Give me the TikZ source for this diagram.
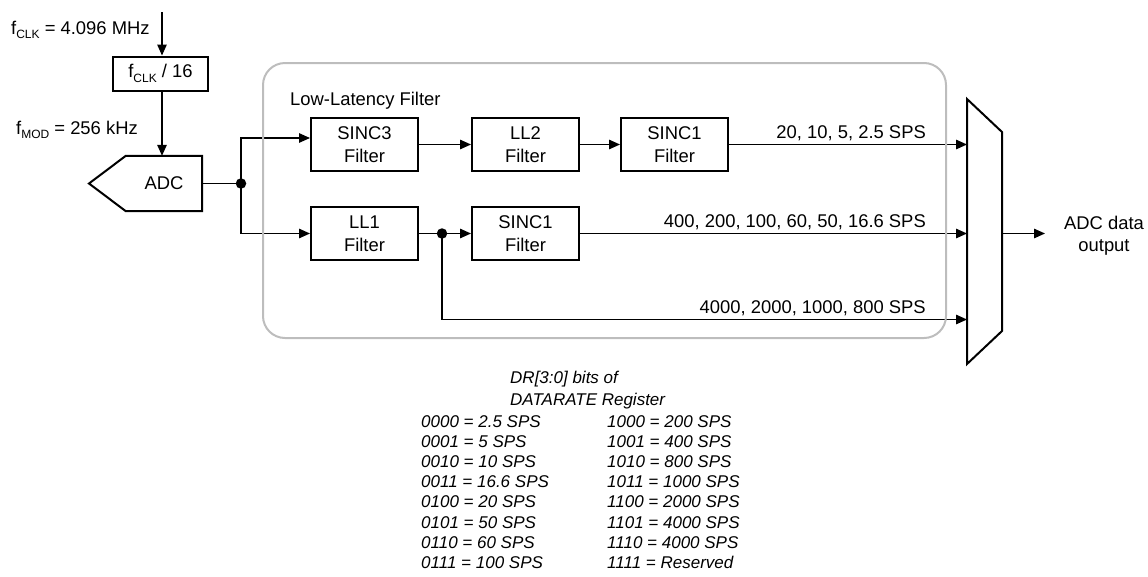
\documentclass[tikz,border=0pt]{standalone}
\usepackage{fontspec}
\setmainfont{Liberation Sans}
\usetikzlibrary{arrows.meta,calc}
\definecolor{boxgray}{HTML}{BDBDBD}
\newcommand\lsub[1]{\raisebox{-0.25em}{\fontsize{12}{12}\selectfont #1}}
\begin{document}
\begin{tikzpicture}[x=1pt,y=-1pt,
  every node/.style={font=\fontsize{18.4}{23}\selectfont, inner sep=0pt},
  fbox/.style={draw, line width=2pt, minimum width=107pt, minimum height=53pt, align=center},
  conn/.style={line width=1.3pt},
  arr/.style={conn, -{Triangle[length=11pt,width=9.5pt]}},
  junction/.style={circle, fill, minimum size=10.5pt, inner sep=0pt},
  lbl/.style={anchor=base east},
  tbl/.style={font=\fontsize{17}{20}\selectfont\itshape, anchor=base west}]
\useasboundingbox (0,0) rectangle (1148,576);

% clock
\coordinate (clkin) at (162,12);
\node[anchor=base west] (fclk) at (11,34) {f\lsub{CLK} = 4.096 MHz};
\node[fbox, minimum width=95pt, minimum height=34pt] (div) at (160.5,73.5) {f\lsub{CLK} / 16};
\node[anchor=base west] (fmod) at (16,134) {f\lsub{MOD} = 256 kHz};

% ADC
\node[minimum width=76pt, minimum height=55pt] (adc) at (164,183.5) {ADC};
\draw[line width=2pt] (adc.north west) -- (adc.north east) -- (adc.south east) -- (adc.south west) -- (89,183.5) -- cycle;

\node[junction] (j1) at (241,183.5) {};

% filters
\node[fbox] (sinc3) at (364.5,144.5) {SINC3\\Filter};
\node[fbox] (ll2) at (525.5,144.5) {LL2\\Filter};
\node[fbox] (sinc1a) at (674.5,144.5) {SINC1\\Filter};
\node[fbox] (ll1) at (364.5,233.5) {LL1\\Filter};
\node[junction] (j2) at (442,233.5) {};
\node[fbox] (sinc1b) at (525.5,233.5) {SINC1\\Filter};

% mux
\coordinate (mTL) at (967,99);
\coordinate (mTR) at (1002,132);
\coordinate (mBR) at (1002,331);
\coordinate (mBL) at (967,364);
\draw[line width=2pt] (mTL) -- (mTR) -- (mBR) -- (mBL) -- cycle;
\coordinate (m3) at (967,319.5);
\coordinate (mout) at (1002,233.5);
\coordinate (otip) at (1045,233.5);
\node[align=center, font=\fontsize{18.4}{22}\selectfont] (out) at (1104,236) {ADC data\\output};

% connectors
\draw[arr] (clkin) -- (clkin |- div.north);
\draw[arr] (clkin |- div.south) -- (clkin |- adc.north);
\draw[conn] (adc.east) -- (j1.center);
\draw[arr] (j1.center) |- ([yshift=6.5pt]sinc3.west);
\draw[arr] (j1.center) |- (ll1.west);
\draw[arr] (sinc3) -- (ll2);
\draw[arr] (ll2) -- (sinc1a);
\draw[arr] (sinc1a.east) -- (sinc1a.east -| mTL);
\draw[conn] (ll1.east) -- (j2.center);
\draw[arr] (j2.center) -- (sinc1b.west);
\draw[arr] (sinc1b.east) -- (sinc1b.east -| mTL);
\draw[arr] (j2.center) |- (m3);
\draw[arr] (mout) -- (otip);

% labels
\node[lbl] (r1) at (926,138.5) {20, 10, 5, 2.5 SPS};
\node[lbl] (r2) at (926,227.5) {400, 200, 100, 60, 50, 16.6 SPS};
\node[lbl] (r3) at (926,313.5) {4000, 2000, 1000, 800 SPS};
\node[anchor=base west] (llf) at (290,105.6) {Low-Latency Filter};

% group box
\draw[line width=2pt, color=boxgray, rounded corners=22pt] (263,63) rectangle (946,338);

% table
\node[tbl] (h1) at (510,383) {DR[3:0] bits of};
\node[tbl] (h2) at (510,405) {DATARATE Register};
\foreach \a/\b [count=\i from 0] in {
  0000 = 2.5 SPS/1000 = 200 SPS,
  0001 = 5 SPS/1001 = 400 SPS,
  0010 = 10 SPS/1010 = 800 SPS,
  0011 = 16.6 SPS/1011 = 1000 SPS,
  0100 = 20 SPS/1100 = 2000 SPS,
  0101 = 50 SPS/1101 = 4000 SPS,
  0110 = 60 SPS/1110 = 4000 SPS,
  0111 = 100 SPS/1111 = Reserved}{
  \node[tbl] (ta\i) at (421,{427+20.2*\i}) {\a};
  \node[tbl] (tb\i) at (607,{427+20.2*\i}) {\b};
}
\end{tikzpicture}
\end{document}
